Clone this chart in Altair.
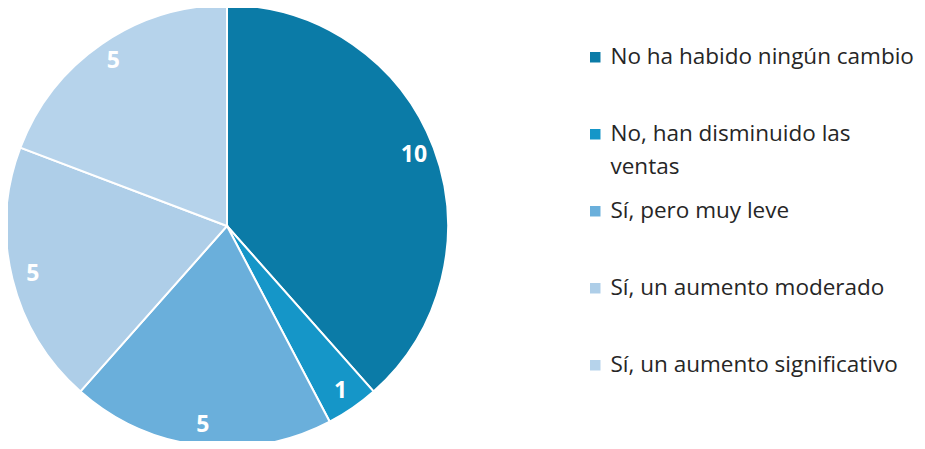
import altair as alt
import pandas as pd

categories = [
    "No ha habido ningún cambio",
    "No, han disminuido las ventas",
    "Sí, pero muy leve",
    "Sí, un aumento moderado",
    "Sí, un aumento significativo",
]
values = [10, 1, 5, 5, 5]
colors = ["#0B7BA7", "#1596C8", "#6AAFDB", "#AECEE8", "#B6D3EB"]

df = pd.DataFrame({"cat": categories, "value": values, "idx": list(range(len(values)))})

base = alt.Chart(df).encode(
    theta=alt.Theta("value:Q", stack=True),
    order=alt.Order("idx:Q"),
    x=alt.value(219),
    y=alt.value(218),
)

arc = base.mark_arc(outerRadius=221, stroke="white", strokeWidth=2).encode(
    color=alt.Color(
        "cat:N",
        sort=categories,
        scale=alt.Scale(domain=categories, range=colors),
        legend=alt.Legend(
            title=None,
            orient="none",
            legendX=576,
            legendY=38,
            padding=0,
            symbolType="square",
            symbolSize=110,
            symbolStrokeWidth=0,
            labelFont="Open Sans",
            labelFontSize=22.5,
            labelColor="#262626",
            labelLimit=500,
            labelOffset=4,
            labelBaseline="middle",
            gridAlign="all",
            rowPadding=21,
            labelExpr="datum.label == 'No, han disminuido las ventas' ? ['No, han disminuido las', 'ventas'] : datum.label",
        ),
    )
)

text = base.mark_text(
    radius=200, font="Open Sans", fontSize=23, fontWeight="bold", color="white"
).encode(text="value:Q")

chart = (
    (arc + text)
    .properties(width=909, height=433, padding=0, autosize=alt.AutoSizeParams(type="none"))
    .configure(
        view=alt.ViewConfig(stroke=None),
        style={"guide-label": {"lineHeight": 33}},
    )
)

chart.save("out.html", embed_options={"renderer": "svg", "actions": False})
